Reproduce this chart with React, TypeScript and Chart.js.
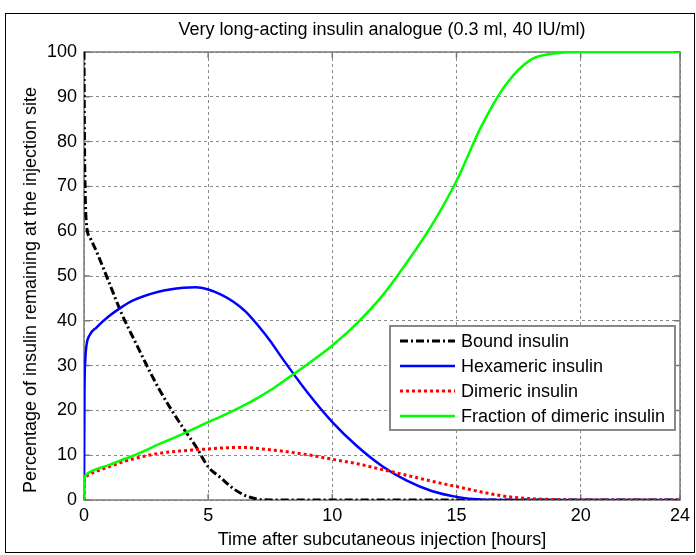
import React, { useEffect, useRef } from "react";
import { Chart, registerables } from "chart.js";

Chart.register(...registerables);

const chartTitle = "Very long-acting insulin analogue (0.3 ml, 40 IU/ml)";
const xAxisTitle = "Time after subcutaneous injection [hours]";
const yAxisTitle = "Percentage of insulin remaining at the injection site";

const seriesNames = [
  "Bound insulin",
  "Hexameric insulin",
  "Dimeric insulin",
  "Fraction of dimeric insulin",
];

const xTicks = [0, 5, 10, 15, 20, 24];
const yTicks = [0, 10, 20, 30, 40, 50, 60, 70, 80, 90, 100];

const hours = [
  0, 0.02, 0.05, 0.1, 0.25, 0.5, 1, 1.5, 2, 3, 4, 4.5, 5, 5.5, 6, 6.5, 7, 7.5,
  8, 9, 10, 11, 12, 13, 14, 15, 16, 17, 18, 19, 20, 21, 22, 23, 24,
];

const boundInsulin = [
  100, 80, 68, 61.5, 58.5, 55.5, 48.7, 41.8, 36, 25, 16, 12, 7.4, 5, 2.6, 1,
  0.2, 0, 0, 0, 0, 0, 0, 0, 0, 0, 0, 0, 0, 0, 0, 0, 0, 0, 0,
];

const hexamericInsulin = [
  0, 24, 31, 34.5, 37, 38.5, 41, 43, 44.6, 46.5, 47.4, 47.5, 47, 45.9, 44.3,
  42.1, 39, 35.5, 31.5, 24, 17.4, 12, 7.6, 4.3, 2, 0.7, 0.1, 0, 0, 0, 0, 0, 0,
  0, 0,
];

const dimericInsulin = [
  0, 4.5, 5, 5.3, 5.8, 6.4, 7.4, 8.4, 9.2, 10.4, 11, 11.2, 11.4, 11.6, 11.7,
  11.7, 11.5, 11.2, 10.9, 10.1, 9.1, 8.1, 6.8, 5.5, 4.2, 3, 1.8, 0.8, 0.3, 0.1,
  0, 0, 0, 0, 0,
];

const dimericFraction = [
  0, 4.5, 5.3, 5.7, 6.3, 6.9, 7.8, 8.9, 9.9, 12.4, 14.8, 16.1, 17.4, 18.6, 19.9,
  21.3, 22.8, 24.5, 26.4, 30.3, 34.5, 39.5, 45.5, 53, 61.3, 71.2, 83.4, 92.8,
  98.3, 99.7, 100, 100, 100, 100, 100,
];

const FONT = '"Liberation Sans", Arial, Helvetica, sans-serif';

const toPoints = (ys: number[]) => hours.map((x, i) => ({ x, y: ys[i] }));

const decorPlugin = {
  id: "decor",
  beforeDatasetsDraw(chart: any) {
    const { ctx, chartArea: a } = chart;
    const xs = chart.scales.x;
    const ys = chart.scales.y;
    ctx.save();
    ctx.setLineDash([]);
    ctx.strokeStyle = "#7a7a7a";
    ctx.lineWidth = 1.5;
    ctx.strokeRect(a.left, a.top, a.right - a.left, a.bottom - a.top);
    ctx.beginPath();
    xTicks.forEach((v) => {
      const px = xs.getPixelForValue(v);
      ctx.moveTo(px, a.bottom);
      ctx.lineTo(px, a.bottom - 6);
      ctx.moveTo(px, a.top);
      ctx.lineTo(px, a.top + 6);
    });
    yTicks.forEach((v) => {
      const py = ys.getPixelForValue(v);
      ctx.moveTo(a.left, py);
      ctx.lineTo(a.left + 6, py);
      ctx.moveTo(a.right, py);
      ctx.lineTo(a.right - 6, py);
    });
    ctx.stroke();
    ctx.restore();
  },
  afterDraw(chart: any) {
    const { ctx, chartArea: a } = chart;
    ctx.save();
    ctx.font = `18px ${FONT}`;
    ctx.fillStyle = "#000";
    ctx.textAlign = "center";
    ctx.textBaseline = "middle";
    // chart title
    ctx.fillText(chartTitle, (a.left + a.right) / 2, 30);
    // y-axis title
    ctx.save();
    ctx.translate(31, 290);
    ctx.rotate(-Math.PI / 2);
    ctx.fillText(yAxisTitle, 0, 0);
    ctx.restore();

    // legend box
    const bx = 390;
    const by = 326;
    const bw = 285;
    const bh = 104;
    ctx.fillStyle = "#fff";
    ctx.fillRect(bx, by, bw, bh);
    ctx.setLineDash([]);
    ctx.strokeStyle = "#888";
    ctx.lineWidth = 2;
    ctx.strokeRect(bx, by, bw, bh);

    chart.data.datasets.forEach((ds: any, i: number) => {
      const cy = by + 15 + i * 25;
      ctx.beginPath();
      ctx.strokeStyle = ds.borderColor;
      ctx.lineWidth = ds.borderWidth;
      ctx.setLineDash(ds.borderDash || []);
      ctx.moveTo(bx + 10, cy);
      ctx.lineTo(bx + 65, cy);
      ctx.stroke();
      ctx.setLineDash([]);
      ctx.fillStyle = "#000";
      ctx.textAlign = "left";
      ctx.textBaseline = "middle";
      ctx.font = `18px ${FONT}`;
      ctx.fillText(ds.label, bx + 71, cy + 1);
    });

    // outer frame
    ctx.strokeStyle = "#000";
    ctx.lineWidth = 1;
    ctx.strokeRect(5.5, 13.5, 689, 539);
    ctx.restore();
  },
};

export default function App() {
  const canvasRef = useRef<HTMLCanvasElement | null>(null);

  useEffect(() => {
    const canvas = canvasRef.current;
    if (!canvas) return;
    const chart = new Chart(canvas, {
      type: "line",
      data: {
        datasets: [
          {
            label: seriesNames[0],
            data: toPoints(boundInsulin),
            borderColor: "#000000",
            borderWidth: 3,
            borderDash: [8, 3, 2, 3],
            order: 4,
          },
          {
            label: seriesNames[1],
            data: toPoints(hexamericInsulin),
            borderColor: "#0000ff",
            borderWidth: 2.5,
            borderDash: [],
            order: 3,
          },
          {
            label: seriesNames[2],
            data: toPoints(dimericInsulin),
            borderColor: "#ff0000",
            borderWidth: 3,
            borderDash: [3, 3],
            order: 2,
          },
          {
            label: seriesNames[3],
            data: toPoints(dimericFraction),
            borderColor: "#00ff00",
            borderWidth: 2.5,
            borderDash: [],
            order: 1,
          },
        ] as any,
      },
      options: {
        animation: false,
        responsive: false,
        devicePixelRatio: 1,
        layout: { padding: { top: 52, right: 16, left: 0, bottom: 0 } },
        elements: {
          point: { radius: 0, hoverRadius: 0 },
          line: { cubicInterpolationMode: "monotone", fill: false },
        },
        plugins: {
          legend: { display: false },
          tooltip: { enabled: false },
          title: { display: false },
        },
        scales: {
          x: {
            type: "linear",
            min: 0,
            max: 24,
            afterBuildTicks: (scale: any) => {
              scale.ticks = xTicks.map((value) => ({ value }));
            },
            afterFit: (scale: any) => {
              scale.height = 55;
            },
            ticks: {
              autoSkip: false,
              maxRotation: 0,
              color: "#000",
              padding: 5,
              font: { family: FONT, size: 18 },
            },
            grid: { color: "#8a8a8a", lineWidth: 1, drawTicks: false },
            border: { display: false, dash: [3, 3] },
            title: {
              display: true,
              text: xAxisTitle,
              color: "#000",
              font: { family: FONT, size: 18 },
              padding: { top: 0, bottom: 4 },
            },
          },
          y: {
            type: "linear",
            min: 0,
            max: 100,
            afterBuildTicks: (scale: any) => {
              scale.ticks = yTicks.map((value) => ({ value }));
            },
            afterFit: (scale: any) => {
              scale.width = 84;
            },
            ticks: {
              color: "#000",
              padding: 7,
              font: { family: FONT, size: 18 },
            },
            grid: { color: "#8a8a8a", lineWidth: 1, drawTicks: false },
            border: { display: false, dash: [3, 3] },
            title: { display: false },
          },
        },
      } as any,
      plugins: [decorPlugin],
    });
    return () => chart.destroy();
  }, []);

  return (
    <div style={{ position: "absolute", left: 0, top: 0, width: 696, height: 555, background: "#fff" }}>
      <canvas ref={canvasRef} width={696} height={555} style={{ width: 696, height: 555, display: "block" }} />
    </div>
  );
}
